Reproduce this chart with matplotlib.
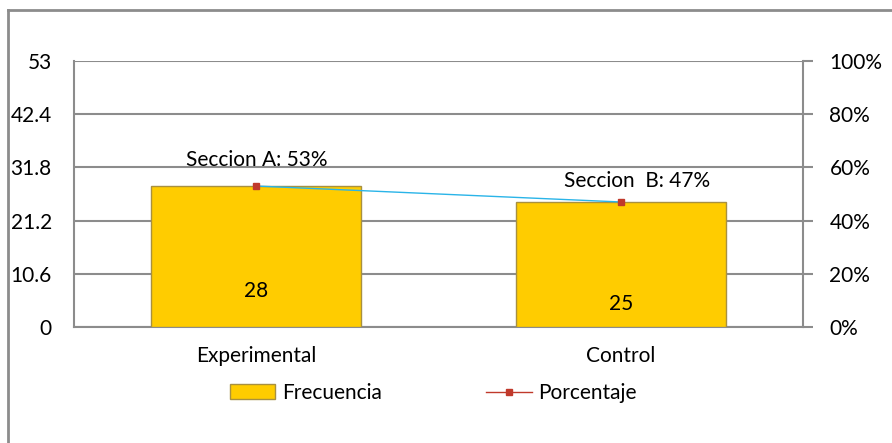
import matplotlib
matplotlib.use("Agg")
import matplotlib.pyplot as plt
from matplotlib.lines import Line2D
from matplotlib.patches import Patch
import numpy as np

categories = ["Experimental", "Control"]
frecuencia = [28, 25]
porcentaje = [53, 47]
point_labels = ["Seccion A: 53%", "Seccion  B: 47%"]
left_ticks = [0, 10.6, 21.2, 31.8, 42.4, 53]
left_tick_labels = ["0", "10.6", "21.2", "31.8", "42.4", "53"]
right_ticks = [0, 20, 40, 60, 80, 100]
right_tick_labels = ["0%", "20%", "40%", "60%", "80%", "100%"]

plt.rcParams['font.family'] = ['Lato', 'DejaVu Sans']
FS = 15
GRAY = "#8c8c8c"

fig = plt.figure(figsize=(8.92, 4.43), dpi=100)
W, H = 892, 443
ax = fig.add_axes([74 / W, 1 - 327 / H, (803 - 74) / W, (327 - 61) / H])
ax2 = ax.twinx()

x = np.arange(len(categories))
ax.bar(x, frecuencia, width=0.576, color="#FFCC00", edgecolor="#A89040",
       linewidth=1.0, zorder=3)
ax.set_xlim(-0.5, 1.5)
ax.set_ylim(0, 53)
ax.set_yticks(left_ticks)
ax.set_yticklabels(left_tick_labels, fontsize=FS)
ax.set_xticks(x)
ax.set_xticklabels(categories, fontsize=FS)
ax.tick_params(axis='y', length=0, pad=16)
ax.tick_params(axis='x', length=0, pad=14)
ax.grid(axis='y', color=GRAY, linewidth=1.5, zorder=0)
ax.set_axisbelow(True)
for s in ["top", "right"]:
    ax.spines[s].set_visible(False)
ax.spines["left"].set_color(GRAY)
ax.spines["left"].set_linewidth(1.5)
ax.spines["bottom"].set_color(GRAY)
ax.spines["bottom"].set_linewidth(1.5)

# bar value labels near the base
label_offsets = [36, 23]
for xi, v, off in zip(x, frecuencia, label_offsets):
    ax.annotate(str(v), (xi, 0), xytext=(0, off * 0.72), textcoords="offset points",
                ha="center", va="center", fontsize=FS, zorder=5)

ax2.plot(x, porcentaje, color="#2AB4E8", linewidth=1.0, marker="s",
         markersize=5, markerfacecolor="#C0392B", markeredgecolor="#C0392B", zorder=6)
ax2.set_ylim(0, 100)
ax2.set_yticks(right_ticks)
ax2.set_yticklabels(right_tick_labels, fontsize=FS)
ax2.tick_params(axis='y', length=7, width=1.5, color=GRAY, pad=12)
for s in ["top", "left", "bottom"]:
    ax2.spines[s].set_visible(False)
ax2.spines["right"].set_color(GRAY)
ax2.spines["right"].set_linewidth(1.5)

label_off = [(0, 18.5), (12, 15)]
for xi, p, lab, off in zip(x, porcentaje, point_labels, label_off):
    ax2.annotate(lab, (xi, p), xytext=off, textcoords="offset points",
                 ha="center", va="center", fontsize=FS)

# outer chart frame (left and top)
fig.add_artist(Line2D([8 / W, 8 / W], [0, 1 - 10 / H], transform=fig.transFigure,
                      color=GRAY, linewidth=2))
fig.add_artist(Line2D([8 / W, 1], [1 - 10 / H, 1 - 10 / H], transform=fig.transFigure,
                      color=GRAY, linewidth=2))

handles = [Patch(facecolor="#FFCC00", edgecolor="#A89040", label="Frecuencia"),
           Line2D([0], [0], color="#C0392B", linewidth=1, marker="s", markersize=5,
                  label="Porcentaje")]
fig.legend(handles=handles, loc="center", bbox_to_anchor=(433 / W, 1 - 393 / H),
           ncol=2, frameon=False, fontsize=FS, columnspacing=5.0, handlelength=2.2,
           handleheight=0.7, handletextpad=0.3)

fig.savefig("out.png", dpi=100)
